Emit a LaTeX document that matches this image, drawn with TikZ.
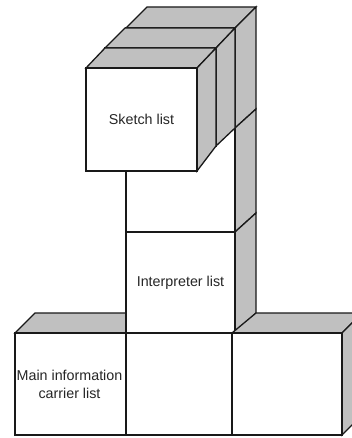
\documentclass[tikz,border=0pt]{standalone}
\usepackage{fontspec}
\setmainfont{Liberation Sans}
\definecolor{shade}{RGB}{192,192,192}
\begin{document}
\begin{tikzpicture}[x=1pt,y=-1pt,
  face/.style={draw=black!90, line width=1.3pt, line join=miter},
  sidebox/.style={face, fill=shade},
  frontbox/.style={face, fill=white},
  lbl/.style={font=\fontsize{14.3}{18}\selectfont, text=black!85, align=center, inner sep=0pt}]
\useasboundingbox (0,0) rectangle (352,438);
\clip (0,0) rectangle (352,438);
% left bottom box: top face (partly hidden by the tower)
\filldraw[sidebox] (15,333) -- (126,333) -- (146,313) -- (35,313) -- cycle;
% tower top box T3
\filldraw[sidebox] (126,28) -- (235,28) -- (256,7) -- (147,7) -- cycle;
\filldraw[sidebox] (235,28) -- (256,7) -- (256,109) -- (235,128) -- cycle;
\filldraw[frontbox] (126,28) rectangle (235,128);
% tower box T2
\filldraw[sidebox] (235,128) -- (256,109) -- (256,213) -- (235,232) -- cycle;
\filldraw[frontbox] (126,128) rectangle (235,232);
% tower box T1 (interpreter)
\filldraw[sidebox] (235,232) -- (256,213) -- (256,313) -- (235,333) -- cycle;
\filldraw[frontbox] (126,232) rectangle (235,333);
% left bottom box: front
\filldraw[frontbox] (15,333) rectangle (126,435);
% right bottom box
\filldraw[sidebox] (232,333) -- (342,333) -- (362,313) -- (256,313) -- cycle;
\filldraw[sidebox] (342,333) -- (362,313) -- (362,415) -- (342,435) -- cycle;
\filldraw[frontbox] (232,333) rectangle (342,435);
% middle bottom box
\filldraw[frontbox] (126,333) rectangle (232,435);
% second cube C2
\filldraw[sidebox] (105,48) -- (216,48) -- (235,28) -- (125,28) -- cycle;
\filldraw[sidebox] (216,48) -- (235,28) -- (235,128) -- (216,146) -- cycle;
\filldraw[frontbox] (105,48) rectangle (216,146);
% front cube C1 (sketch)
\filldraw[sidebox] (86,68) -- (197,68) -- (216,48) -- (105,48) -- cycle;
\filldraw[sidebox] (197,68) -- (216,48) -- (216,146) -- (197,171) -- cycle;
\filldraw[frontbox] (86,68) rectangle (197,171);
% labels
\node[lbl] (sketch) at (141.5,119.5) {Sketch list};
\node[lbl] (interp) at (180.5,283) {Interpreter list};
\node[lbl] (maininfo) at (69.5,384) {Main information\\carrier list};
\end{tikzpicture}
\end{document}
